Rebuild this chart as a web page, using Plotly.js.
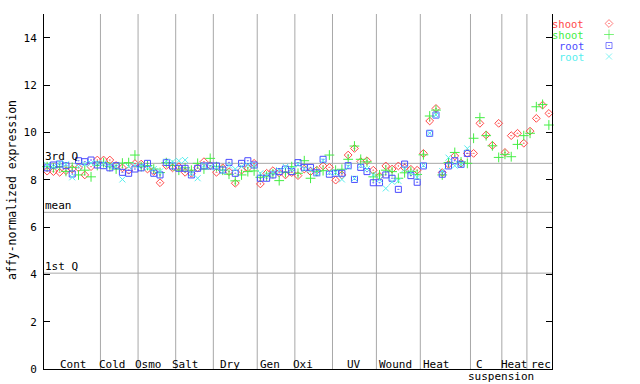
<!DOCTYPE html>
<html><head><meta charset="utf-8">
<script src="https://cdn.plot.ly/plotly-3.0.1.min.js"></script>
<style>html,body{margin:0;padding:0;background:#fff}#chart{width:640px;height:384px}</style>
</head><body><div id="chart"></div>
<script>
// ---------- data ----------
const groupLabels = ["Cont","Cold","Osmo","Salt","Dry","Gen","Oxi","UV","Wound","Heat","C","Heat","rec"];
const groupSizes  = [9,6,6,6,7,6,6,7,7,8,5,4,4];
const subLabel = "suspension";
const quartileLabels = ["3rd Q","mean","1st Q"];
const quartileValues = [8.69, 6.62, 4.05];
const yTicks = [0,2,4,6,8,10,12,14];
const legendLabels = ["shoot","shoot","root","root"];

const shootRep1 = [
 8.36,8.34,8.31,8.38,8.45,8.50,8.20,8.55,8.83,
 8.83,8.83,8.60,8.50,8.40,8.68,
 8.66,8.45,8.35,7.87,8.60,8.50,
 8.55,8.31,8.27,8.50,8.76,8.60,
 8.31,8.50,8.34,7.85,8.40,8.50,8.69,
 7.82,8.27,8.38,8.29,8.20,8.30,
 8.17,8.45,8.34,8.40,8.58,8.52,
 7.98,8.20,9.04,9.32,8.76,8.80,8.40,
 8.15,8.58,8.45,8.58,8.50,8.44,8.40,
 9.11,10.48,11.01,8.30,8.65,9.00,8.70,9.11,
 9.11,10.38,9.89,9.45,10.38,
 9.15,9.86,9.96,9.54,
 10.05,10.59,11.15,10.80];
const shootRep2 = [
 8.55,8.50,8.55,8.35,8.52,8.20,8.40,8.12,8.60,
 8.72,8.55,8.45,8.70,8.72,9.04,
 8.55,8.60,8.45,8.30,8.72,8.60,
 8.40,8.50,8.40,8.69,8.45,8.90,
 8.55,8.40,8.23,7.95,8.20,8.34,8.37,
 8.10,8.15,8.25,7.96,8.30,8.55,
 8.27,8.80,8.06,8.35,8.38,9.04,
 8.40,8.44,8.86,9.42,8.86,8.75,8.12,
 8.20,8.40,8.34,8.06,8.29,8.35,8.22,
 9.05,10.69,10.94,8.20,8.72,9.15,8.75,8.69,
 9.75,10.62,9.86,9.43,8.94,
 9.07,8.97,9.49,9.86,
 9.96,11.08,11.18,10.31];
const rootRep1 = [
 8.50,8.62,8.66,8.59,8.24,8.80,8.76,8.83,8.62,
 8.59,8.50,8.59,8.31,8.27,8.45,
 8.50,8.69,8.27,8.20,8.73,8.58,
 8.48,8.48,8.20,8.48,8.58,8.58,
 8.58,8.41,8.73,8.27,8.69,8.80,8.62,
 8.06,8.06,8.20,8.34,8.45,8.34,
 8.72,8.52,8.52,8.29,8.86,8.23,
 8.27,8.27,8.59,8.01,8.52,8.34,7.87,
 7.87,8.20,8.06,7.59,8.66,8.17,7.89,
 8.58,9.96,10.73,8.23,8.58,8.80,8.65,9.11,
 null,null,null,null,null,
 null,null,null,null,
 null,null,null,null];
const rootRep2 = [
 8.62,8.55,8.70,8.65,8.10,8.55,8.65,8.70,8.70,
 8.70,8.60,8.55,8.01,8.55,8.60,
 8.60,8.50,8.45,8.35,8.75,8.75,
 8.80,8.83,8.25,8.06,8.60,8.55,
 8.50,8.35,8.60,8.45,8.55,8.62,8.60,
 8.27,8.20,8.30,8.40,8.55,8.45,
 8.65,8.45,8.40,8.27,8.80,8.30,
 8.30,8.01,8.55,8.05,8.60,8.45,8.20,
 8.00,7.63,7.91,7.95,8.45,8.30,8.10,
 8.60,9.96,10.73,8.36,8.93,8.59,8.65,9.32,
 null,null,null,null,null,
 null,null,null,null,
 null,null,null,null];

// ---------- layout / styles ----------
const W = 640, H = 384;
const PL = 44, PR = 552, PT = 14, PB = 369;
const FONT = "DejaVu Sans Mono, Liberation Mono, monospace";
const colors = ["#ff4848", "#44ee44", "#4a4aff", "#55eeee"];
const symbols = ["diamond-open-dot", "cross-thin-open", "square-open-dot", "x-thin-open"];
const sizes = [6, 7, 6, 6];
const series = [shootRep1, shootRep2, rootRep1, rootRep2];

const nSlots = groupSizes.reduce((a, b) => a + b, 0);
const xIdx = Array.from({length: nSlots}, (_, i) => i);
const bounds = [];
let acc = 0;
groupSizes.forEach(s => { bounds.push([acc - 0.5, acc + s - 0.5]); acc += s; });

const px = v => v / W, py = v => 1 - v / H;

const traces = series.map((ys, k) => ({
  type: "scatter", mode: "markers", x: xIdx, y: ys,
  xaxis: "x", yaxis: "y", cliponaxis: false, hoverinfo: "skip",
  marker: {symbol: symbols[k], size: sizes[k], color: colors[k], line: {color: colors[k], width: 1}}
}));
// legend markers (right side)
const legY = [23.5, 34.5, 45.5, 56.5];
traces.push({
  type: "scatter", mode: "markers", xaxis: "x2", yaxis: "y2",
  x: legY.map(() => 609), y: legY, hoverinfo: "skip", cliponaxis: false,
  marker: {symbol: symbols, size: [6, 7, 6, 6], color: colors, line: {color: colors, width: 1}}
});

const shapes = [];
bounds.slice(0, -1).forEach(b => shapes.push({
  type: "line", xref: "x", yref: "y", x0: b[1], x1: b[1], y0: 0, y1: 15,
  line: {color: "#a8a8a8", width: 1}, layer: "below"
}));
quartileValues.forEach(v => shapes.push({
  type: "line", xref: "x", yref: "y", x0: -0.5, x1: nSlots - 0.5, y0: v, y1: v,
  line: {color: "#a8a8a8", width: 1}, layer: "below"
}));

// label offsets (in slots) relative to group centre, as placed in the reference
const labelShift = [0.2, -1.05, -1.35, -1.45, -0.85, -0.9, -1.7, -0.15, -0.4, -1.45, -1.1, -0.05, 0.2];
const annotations = [];
bounds.forEach((b, i) => annotations.push({
  xref: "x", yref: "paper", x: (b[0] + b[1]) / 2 + labelShift[i], y: py(364),
  text: groupLabels[i], showarrow: false, xanchor: "center", yanchor: "middle",
  font: {family: FONT, size: 11, color: "#000"}, borderpad: 0
}));
annotations.push({
  xref: "x", yref: "paper", x: 72.4, y: py(376), text: subLabel, showarrow: false,
  xanchor: "center", yanchor: "middle", font: {family: FONT, size: 11, color: "#000"}, borderpad: 0
});
quartileValues.forEach((v, i) => annotations.push({
  xref: "paper", yref: "y", x: px(PL), y: v, yshift: 7, text: quartileLabels[i], showarrow: false,
  xanchor: "left", yanchor: "middle", font: {family: FONT, size: 11, color: "#000"}, borderpad: 0
}));
annotations.push({
  xref: "paper", yref: "paper", x: px(12), y: py(190), text: "affy-normalized expression",
  textangle: -90, showarrow: false, xanchor: "center", yanchor: "middle",
  font: {family: FONT, size: 11.5, color: "#000"}, borderpad: 0
});
legendLabels.forEach((t, i) => annotations.push({
  xref: "x2", yref: "y2", x: 585, y: legY[i], text: t, showarrow: false,
  xanchor: "right", yanchor: "middle", font: {family: FONT, size: 10.5, color: colors[i]}, borderpad: 0
}));

const layout = {
  width: W, height: H, margin: {l: 0, r: 0, t: 0, b: 0},
  paper_bgcolor: "#fff", plot_bgcolor: "rgba(0,0,0,0)", showlegend: false,
  xaxis: {domain: [px(PL), px(PR)], range: [-0.5, nSlots - 0.5], showline: true, linecolor: "#000",
          linewidth: 1, showgrid: false, zeroline: false, showticklabels: false, ticks: "", fixedrange: true},
  yaxis: {domain: [py(PB), py(PT)], range: [0, 15], tickvals: yTicks, ticktext: yTicks.map(String),
          ticks: "inside", ticklen: 6, tickcolor: "#000", tickwidth: 1, mirror: "ticks", showline: true,
          linecolor: "#000", linewidth: 1, showgrid: false, zeroline: false, automargin: false,
          ticklabelstandoff: 4, tickfont: {family: FONT, size: 11, color: "#000"}, fixedrange: true},
  xaxis2: {domain: [px(PR), 1], range: [PR, W], visible: false, fixedrange: true, anchor: "y2"},
  yaxis2: {domain: [0, 1], range: [H, 0], visible: false, anchor: "x2", fixedrange: true},
  shapes: shapes, annotations: annotations, font: {family: FONT, size: 11}
};

Plotly.newPlot("chart", traces, layout, {staticPlot: true, displayModeBar: false});
</script></body></html>
